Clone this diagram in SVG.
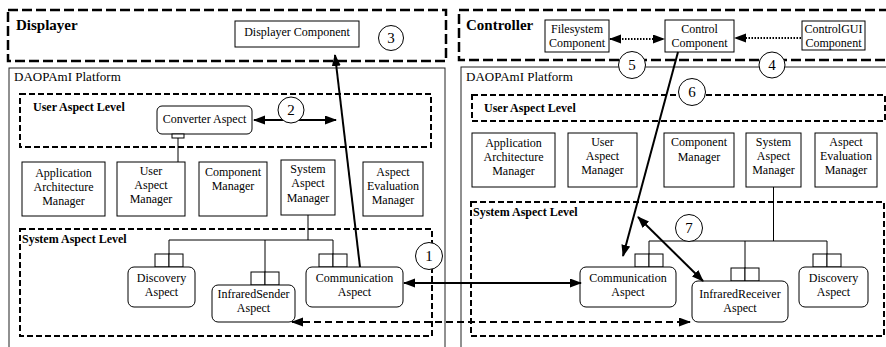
<svg xmlns="http://www.w3.org/2000/svg" width="886" height="347" viewBox="0 0 886 347">
<style>
.box{fill:#fff;stroke:#000;stroke-width:1}
.plat{fill:none;stroke:#222;stroke-width:1}
.t{font-family:"Liberation Serif","Times New Roman",serif;font-size:12px;text-anchor:middle;fill:#000}
.lbl{font-family:"Liberation Serif","Times New Roman",serif;font-size:12px;font-weight:bold;fill:#000}
.title{font-family:"Liberation Serif","Times New Roman",serif;font-size:15px;font-weight:bold;fill:#000}
.plt{font-family:"Liberation Serif","Times New Roman",serif;font-size:13px;fill:#000}
.bigdash{fill:none;stroke:#000;stroke-width:2.5;stroke-dasharray:10 4}
.dash{fill:none;stroke:#000;stroke-width:2;stroke-dasharray:6 3}
.circ{fill:#fff;stroke:#000;stroke-width:1}
.num{font-family:"Liberation Serif","Times New Roman",serif;font-size:15px;text-anchor:middle;fill:#000}
.ln{stroke:#000;stroke-width:1;fill:none}
.arr{stroke:#000;stroke-width:2;fill:none}
.darr{stroke:#000;stroke-width:2;fill:none;stroke-dasharray:7 4}
.dot{stroke:#000;stroke-width:2;fill:none;stroke-dasharray:1.5 1.5}
</style>
<defs>
<marker id="ah" markerUnits="userSpaceOnUse" markerWidth="12" markerHeight="10" refX="11" refY="4.5" orient="auto-start-reverse">
<path d="M0,0 L12,4.5 L0,9 z" fill="#000"/>
</marker>
</defs>
<rect width="886" height="347" fill="#fff"/>

<!-- Left side -->
<g id="displayer">
<rect class="bigdash" x="8" y="10" width="438" height="51"/>
<text class="title" x="16" y="30">Displayer</text>
</g>
<g id="displayer-component">
<rect class="box" x="235" y="21" width="124" height="26"/>
<text class="t" x="297" y="36">Displayer Component</text>
</g>
<g id="left-platform">
<rect class="plat" x="9" y="68" width="436" height="290"/>
<text class="plt" x="14" y="81">DAOPAmI Platform</text>
</g>
<g id="left-user-aspect-level">
<rect class="dash" x="20" y="94" width="411" height="53"/>
<text class="lbl" x="33" y="111">User Aspect Level</text>
</g>
<g id="converter-aspect">
<rect class="box" x="157" y="106" width="95" height="28" rx="5"/>
<text class="t" x="204.5" y="123">Converter Aspect</text>
<rect class="box" x="172" y="134" width="12" height="4"/>
</g>
<g id="left-app-arch-manager">
<rect class="box" x="22" y="162" width="83" height="54"/>
<text class="t" x="63.5" y="177">Application</text>
<text class="t" x="63.5" y="191">Architecture</text>
<text class="t" x="63.5" y="205">Manager</text>
</g>
<g id="left-user-aspect-manager">
<rect class="box" x="117" y="162" width="68" height="54"/>
<text class="t" x="151" y="175">User</text>
<text class="t" x="151" y="189">Aspect</text>
<text class="t" x="151" y="203">Manager</text>
</g>
<g id="left-component-manager">
<rect class="box" x="199" y="162" width="68" height="54"/>
<text class="t" x="233" y="176">Component</text>
<text class="t" x="233" y="190">Manager</text>
</g>
<g id="left-system-aspect-manager">
<rect class="box" x="281" y="160" width="54" height="55"/>
<text class="t" x="308" y="173">System</text>
<text class="t" x="308" y="187">Aspect</text>
<text class="t" x="308" y="202">Manager</text>
</g>
<g id="left-aspect-eval-manager">
<rect class="box" x="363" y="162" width="60" height="54"/>
<text class="t" x="393" y="176">Aspect</text>
<text class="t" x="393" y="190">Evaluation</text>
<text class="t" x="393" y="204">Manager</text>
</g>
<g id="left-system-aspect-level">
<rect class="dash" x="20" y="229" width="412" height="107"/>
<text class="lbl" x="22" y="243">System Aspect Level</text>
</g>
<g id="left-discovery-aspect">
<rect class="box" x="155" y="254" width="14" height="13"/>
<rect class="box" x="169" y="254" width="14" height="13"/>
<rect class="box" x="128" y="267" width="67" height="40" rx="6"/>
<text class="t" x="161.5" y="282">Discovery</text>
<text class="t" x="161.5" y="296">Aspect</text>
</g>
<g id="infraredsender-aspect">
<rect class="box" x="251" y="272" width="14" height="13"/>
<rect class="box" x="265" y="272" width="14" height="13"/>
<rect class="box" x="212" y="285" width="83" height="37" rx="6"/>
<text class="t" x="253.5" y="298">InfraredSender</text>
<text class="t" x="253.5" y="312">Aspect</text>
</g>
<g id="left-communication-aspect">
<rect class="box" x="319" y="254" width="14" height="13"/>
<rect class="box" x="333" y="254" width="14" height="13"/>
<rect class="box" x="306" y="267" width="97" height="40" rx="6"/>
<text class="t" x="354.5" y="282">Communication</text>
<text class="t" x="354.5" y="296">Aspect</text>
</g>

<!-- Right side -->
<g id="right-platform">
<rect class="plat" x="461" y="67" width="440" height="290"/>
<text class="plt" x="466" y="81">DAOPAmI Platform</text>
</g>
<g id="controller">
<rect class="bigdash" x="459" y="10" width="440" height="50"/>
<text class="title" x="466" y="30">Controller</text>
</g>
<g id="filesystem-component">
<rect class="box" x="545" y="20" width="64" height="32"/>
<text class="t" x="577" y="33">Filesystem</text>
<text class="t" x="577" y="47">Component</text>
</g>
<g id="control-component">
<rect class="box" x="665" y="20" width="69" height="32"/>
<text class="t" x="699.5" y="33">Control</text>
<text class="t" x="699.5" y="47">Component</text>
</g>
<g id="controlgui-component">
<rect class="box" x="802" y="21" width="63" height="29"/>
<text class="t" x="833.5" y="33">ControlGUI</text>
<text class="t" x="833.5" y="47">Component</text>
</g>
<g id="right-user-aspect-level">
<rect class="dash" x="472" y="95" width="413" height="26"/>
<text class="lbl" x="484" y="112">User Aspect Level</text>
</g>
<g id="right-app-arch-manager">
<rect class="box" x="472" y="133" width="83" height="54"/>
<text class="t" x="513.5" y="147">Application</text>
<text class="t" x="513.5" y="161">Architecture</text>
<text class="t" x="513.5" y="175">Manager</text>
</g>
<g id="right-user-aspect-manager">
<rect class="box" x="568" y="133" width="69" height="54"/>
<text class="t" x="602.5" y="146">User</text>
<text class="t" x="602.5" y="160">Aspect</text>
<text class="t" x="602.5" y="174">Manager</text>
</g>
<g id="right-component-manager">
<rect class="box" x="664" y="133" width="70" height="54"/>
<text class="t" x="699" y="146">Component</text>
<text class="t" x="699" y="161">Manager</text>
</g>
<g id="right-system-aspect-manager">
<rect class="box" x="746" y="133" width="55" height="54"/>
<text class="t" x="773.5" y="146">System</text>
<text class="t" x="773.5" y="160">Aspect</text>
<text class="t" x="773.5" y="174">Manager</text>
</g>
<g id="right-aspect-eval-manager">
<rect class="box" x="815" y="133" width="62" height="54"/>
<text class="t" x="846" y="146">Aspect</text>
<text class="t" x="846" y="160">Evaluation</text>
<text class="t" x="846" y="174">Manager</text>
</g>
<g id="right-system-aspect-level">
<rect class="dash" x="471" y="202" width="413" height="134"/>
<text class="lbl" x="473" y="216">System Aspect Level</text>
</g>
<g id="right-communication-aspect">
<rect class="box" x="635" y="254" width="14" height="13"/>
<rect class="box" x="649" y="254" width="14" height="13"/>
<rect class="box" x="580" y="267" width="96" height="40" rx="6"/>
<text class="t" x="628" y="282">Communication</text>
<text class="t" x="628" y="296">Aspect</text>
</g>
<g id="infraredreceiver-aspect">
<rect class="box" x="731" y="268" width="14" height="13"/>
<rect class="box" x="745" y="268" width="14" height="13"/>
<rect class="box" x="692" y="281" width="96" height="41" rx="6"/>
<text class="t" x="740" y="298">InfraredReceiver</text>
<text class="t" x="740" y="312">Aspect</text>
</g>
<g id="right-discovery-aspect">
<rect class="box" x="813" y="254" width="14" height="13"/>
<rect class="box" x="827" y="254" width="14" height="13"/>
<rect class="box" x="799" y="267" width="69" height="40" rx="6"/>
<text class="t" x="833.5" y="282">Discovery</text>
<text class="t" x="833.5" y="296">Aspect</text>
</g>

<g id="connectors">
<!-- left tree -->
<path class="ln" d="M178,138 V162"/>
<path class="ln" d="M308,215 V240 M169,240 H333 M169,240 V254 M265,240 V272 M333,240 V254"/>
<!-- right tree -->
<path class="ln" d="M773.5,187 V241 M649,241 H827 M649,241 V254 M745,241 V268 M827,241 V254"/>
<!-- arrows -->
<line class="arr" x1="254" y1="120" x2="336" y2="120" marker-start="url(#ah)" marker-end="url(#ah)"/>
<line class="arr" x1="360" y1="267" x2="335" y2="55" marker-end="url(#ah)"/>
<line class="arr" x1="404" y1="283" x2="581" y2="283" marker-start="url(#ah)" marker-end="url(#ah)"/>
<line class="darr" x1="292" y1="322" x2="690" y2="322" marker-start="url(#ah)" marker-end="url(#ah)"/>
<line class="arr" x1="678" y1="52" x2="623" y2="256" marker-end="url(#ah)"/>
<line class="arr" x1="638" y1="217" x2="703" y2="281" marker-start="url(#ah)" marker-end="url(#ah)"/>
<line class="dot" x1="610" y1="39" x2="664" y2="39" marker-start="url(#ah)" marker-end="url(#ah)"/>
<line class="dot" x1="801" y1="38" x2="735" y2="38" marker-end="url(#ah)"/>
</g>

<g id="step-1"><circle class="circ" cx="429" cy="256" r="13.5"/><text class="num" x="429" y="261">1</text></g>
<g id="step-2"><circle class="circ" cx="291" cy="110" r="13"/><text class="num" x="291" y="115">2</text></g>
<g id="step-3"><circle class="circ" cx="391" cy="38" r="12.5"/><text class="num" x="391" y="43">3</text></g>
<g id="step-4"><circle class="circ" cx="772" cy="65" r="13"/><text class="num" x="772" y="70">4</text></g>
<g id="step-5"><circle class="circ" cx="632" cy="65" r="13.5"/><text class="num" x="632" y="70">5</text></g>
<g id="step-6"><circle class="circ" cx="692" cy="92" r="13.5"/><text class="num" x="692" y="97">6</text></g>
<g id="step-7"><circle class="circ" cx="689" cy="228" r="13.5"/><text class="num" x="689" y="233">7</text></g>
</svg>
